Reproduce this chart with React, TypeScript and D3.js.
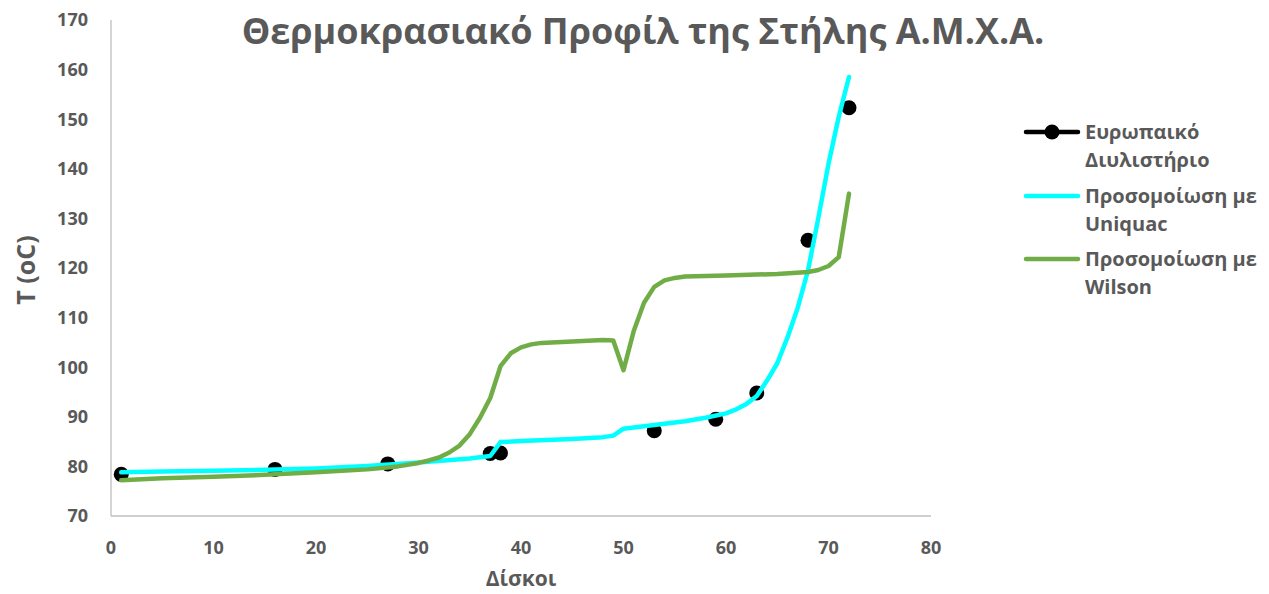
import React from "react";
import * as d3 from "d3";

const refStages = [1, 16, 27, 37, 38, 53, 59, 63, 68, 72];
const refTemps = [78.4, 79.4, 80.5, 82.6, 82.7, 87.2, 89.5, 94.8, 125.6, 152.3];

const uniStages = [1, 5, 10, 15, 20, 25, 30, 35, 37, 38, 40, 45, 48, 49, 50, 52, 54, 56, 58, 60, 61, 62, 63, 64, 65, 66, 67, 68, 69, 70, 71, 72];
const uniTemps = [78.8, 78.95, 79.1, 79.3, 79.6, 80.1, 80.8, 81.6, 82.1, 84.9, 85.1, 85.5, 85.9, 86.2, 87.6, 88.1, 88.6, 89.1, 89.8, 90.7, 91.5, 92.6, 94.2, 97.3, 100.8, 106, 112, 119.5, 130, 141, 150.5, 158.5];

const wilStages = [1, 5, 10, 15, 20, 25, 28, 30, 31, 32, 33, 34, 35, 36, 37, 38, 39, 40, 41, 42, 44, 46, 48, 49, 50, 51, 52, 53, 54, 55, 56, 60, 65, 68, 69, 70, 71, 72];
const wilTemps = [77.2, 77.6, 77.9, 78.3, 78.8, 79.4, 80.0, 80.7, 81.2, 81.8, 82.8, 84.2, 86.5, 89.8, 93.8, 100.2, 102.8, 104.0, 104.6, 104.9, 105.1, 105.3, 105.5, 105.4, 99.4, 107.3, 113.0, 116.2, 117.5, 118.0, 118.3, 118.5, 118.8, 119.2, 119.6, 120.4, 122.2, 135.0];

const xTicks = [0, 10, 20, 30, 40, 50, 60, 70, 80];
const yTicks = [70, 80, 90, 100, 110, 120, 130, 140, 150, 160, 170];

const seriesNames = [["Ευρωπαικό", "Διυλιστήριο"], ["Προσομοίωση με", "Uniquac"], ["Προσομοίωση με", "Wilson"]];
const seriesColors = ["#000000", "#00FFFF", "#70AD47"];

const title = "Θερμοκρασιακό Προφίλ της Στήλης Α.Μ.Χ.Α.";
const xTitle = "Δίσκοι";
const yTitle = "T (oC)";

const W = 1269, H = 594;
const FONT = "'Open Sans', 'Noto Sans', sans-serif";
const TXT = "#595959";

export default function App() {
  const x = d3.scaleLinear().domain([0, 80]).range([111, 931]);
  const y = d3.scaleLinear().domain([70, 170]).range([516, 20]);
  const line = d3.line<[number, number]>().x(d => x(d[0])).y(d => y(d[1]));
  const uni: [number, number][] = uniStages.map((s, i) => [s, uniTemps[i]]);
  const wil: [number, number][] = wilStages.map((s, i) => [s, wilTemps[i]]);

  const legY = [132, 196, 259];
  return (
    <svg width={W} height={H} style={{ position: "absolute", left: 0, top: 0, background: "#fff" }} fontFamily={FONT}>
      <rect x={0} y={0} width={W} height={H} fill="#fff" />
      {/* axes */}
      <line x1={111} x2={111} y1={20} y2={516} stroke="#BFBFBF" strokeWidth={1.3} />
      <line x1={111} x2={931} y1={516} y2={516} stroke="#BFBFBF" strokeWidth={1.3} />
      {yTicks.map(t => (
        <text key={t} x={88} y={y(t)} dy="0.35em" textAnchor="end" fontSize={18} fontWeight={700} fill={TXT}>{t}</text>
      ))}
      {xTicks.map(t => (
        <text key={t} x={x(t)} y={548} dy="0.35em" textAnchor="middle" fontSize={18} fontWeight={700} fill={TXT}>{t}</text>
      ))}
      <text x={521} y={579} dy="0.35em" textAnchor="middle" fontSize={21} fontWeight={700} fill={TXT}>{xTitle}</text>
      <text transform={`translate(26,270) rotate(-90)`} textAnchor="middle" dy="0.35em" fontSize={25} fontWeight={700} fill={TXT}>{yTitle}</text>
      <text x={643} y={31} dy="0.35em" textAnchor="middle" fontSize={36} fontWeight={700} fill={TXT}>{title}</text>
      {/* data */}
      {refStages.map((s, i) => (
        <circle key={i} cx={x(s)} cy={y(refTemps[i])} r={7.5} fill="#000" />
      ))}
      <path d={line(uni) || ""} fill="none" stroke={seriesColors[1]} strokeWidth={4.5} strokeLinejoin="round" strokeLinecap="round" />
      <path d={line(wil) || ""} fill="none" stroke={seriesColors[2]} strokeWidth={4.5} strokeLinejoin="round" strokeLinecap="round" />
      {/* legend */}
      {seriesNames.map((nm, i) => (
        <g key={i}>
          <line x1={1026} x2={1078} y1={legY[i]} y2={legY[i]} stroke={seriesColors[i]} strokeWidth={4.5} strokeLinecap="round" />
          {i === 0 && <circle cx={1052} cy={legY[i]} r={7.5} fill="#000" />}
          <text x={1085} y={legY[i]} dy="0.35em" fontSize={20} fontWeight={700} fill={TXT}>{nm[0]}</text>
          <text x={1085} y={legY[i] + 28} dy="0.35em" fontSize={20} fontWeight={700} fill={TXT}>{nm[1]}</text>
        </g>
      ))}
    </svg>
  );
}
